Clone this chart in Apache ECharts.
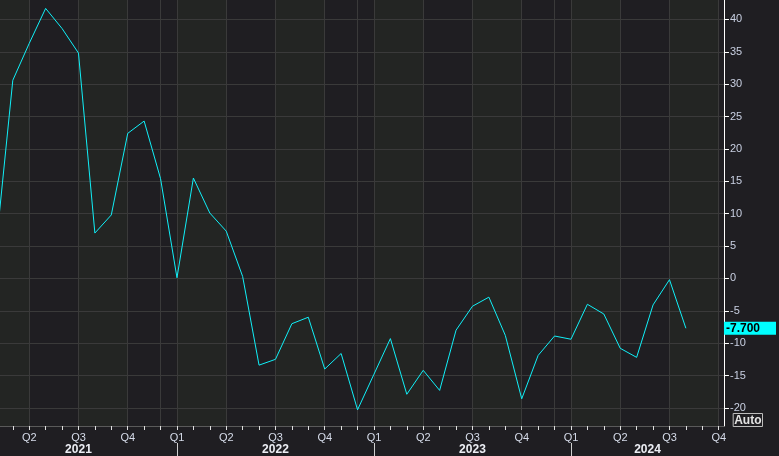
<!DOCTYPE html>
<html>
<head>
<meta charset="utf-8">
<script src="https://cdn.jsdelivr.net/npm/echarts@6/dist/echarts.min.js"></script>
<style>
html,body{margin:0;padding:0;background:#1f1e22;}
#c{width:779px;height:456px;}
</style>
</head>
<body>
<div id="c"></div>
<script>
// ---- data (monthly, first of month) ----
var months = [
  '2021-02','2021-03','2021-04','2021-05','2021-06','2021-07','2021-08','2021-09','2021-10','2021-11','2021-12',
  '2022-01','2022-02','2022-03','2022-04','2022-05','2022-06','2022-07','2022-08','2022-09','2022-10','2022-11','2022-12',
  '2023-01','2023-02','2023-03','2023-04','2023-05','2023-06','2023-07','2023-08','2023-09','2023-10','2023-11','2023-12',
  '2024-01','2024-02','2024-03','2024-04','2024-05','2024-06','2024-07','2024-08'
];
var values = [
  5.5, 30.6, 36.3, 41.7, 38.6, 34.8, 7.0, 9.8, 22.4, 24.3, 15.4,
  0.1, 15.5, 10.1, 7.3, 0.3, -13.4, -12.5, -7.0, -6.0, -14.0, -11.6, -20.3,
  -14.8, -9.3, -17.9, -14.2, -17.3, -8.0, -4.3, -2.9, -8.8, -18.6, -11.9, -8.9,
  -9.4, -4.0, -5.5, -10.8, -12.2, -4.1, -0.2, -7.7
];
var yTicks = [-20, -15, -10, -5, 0, 5, 10, 15, 20, 25, 30, 35, 40];
var years = [2021, 2022, 2023, 2024];
var baseYear = 2021;

// ---- derived ----
function monthIndex(s){ var p = s.split('-'); return (parseInt(p[0],10)-baseYear)*12 + parseInt(p[1],10)-1; }
var xMin = 1.22, xMax = 45.32;
var yMin = -22.8, yMax = 43.0;
var seriesData = months.map(function(m,i){ return [monthIndex(m), values[i]]; });
var monthTicks = [], quarterTicks = [], decTicks = [], yearStarts = [], yearCenters = [];
for (var m = Math.ceil(xMin); m <= Math.floor(xMax); m++) {
  monthTicks.push(m);
  if (m % 3 === 0) quarterTicks.push(m);
  if (m % 12 === 11) decTicks.push(m);
}
years.forEach(function(y){
  var s = (y-baseYear)*12, e = s+12;
  if (s > xMin) yearStarts.push(s);
  yearCenters.push((s + Math.min(e, xMax))/2);
});
var bandTicks = [xMin].concat(quarterTicks).concat([xMax]);
var lastValue = values[values.length-1];

var FONT = 'Liberation Sans';
var chart = echarts.init(document.getElementById('c'));
chart.setOption({
  backgroundColor: '#1f1e22',
  animation: false,
  grid: { left: 0, right: 52, top: 0, bottom: 30, containLabel: false },
  xAxis: [
    { // main axis: monthly ticks + quarter labels
      type: 'value', min: xMin, max: xMax, position: 'bottom',
      axisLine: { show: true, onZero: false, lineStyle: { color: '#5a5a5a', width: 1 } },
      axisTick: { show: true, customValues: monthTicks, length: 4, lineStyle: { color: '#e0e0e0' } },
      axisLabel: { show: true, customValues: quarterTicks, margin: 6, color: '#d6dcea',
        fontFamily: FONT, fontSize: 11,
        formatter: function(v){ return 'Q' + (Math.floor((Math.round(v) % 12)/3) + 1); } },
      splitLine: { show: false }
    },
    { // quarter bands
      type: 'value', min: xMin, max: xMax, position: 'bottom', z: -1,
      axisLine: { show: false, onZero: false }, axisLabel: { show: false },
      axisTick: { show: false, customValues: bandTicks },
      splitLine: { show: false },
      splitArea: { show: true, areaStyle: { color: ['#232523', '#1f1e22'] } }
    },
    { // grid lines at quarter starts and December
      type: 'value', min: xMin, max: xMax, position: 'bottom',
      axisLine: { show: false, onZero: false }, axisLabel: { show: false },
      axisTick: { show: false, customValues: quarterTicks.concat(decTicks) },
      splitLine: { show: true, lineStyle: { color: '#3a3a3a', width: 1 } }
    },
    { // year labels and separators
      type: 'value', min: xMin, max: xMax, position: 'bottom', offset: 17,
      axisLine: { show: false, onZero: false },
      axisTick: { show: true, customValues: yearStarts, length: 14, lineStyle: { color: '#cfcfcf' } },
      axisLabel: { show: true, customValues: yearCenters, margin: 1, color: '#eceef4',
        fontFamily: FONT, fontSize: 12, fontWeight: 'bold',
        formatter: function(v){ return String(baseYear + Math.floor(v/12)); } },
      splitLine: { show: false }
    }
  ],
  yAxis: [
    {
      type: 'value', min: yMin, max: yMax, position: 'right',
      axisLine: { show: true, onZero: false, lineStyle: { color: '#ffffff', width: 1 } },
      axisTick: { show: true, customValues: yTicks, length: 5, lineStyle: { color: '#ffffff' } },
      axisLabel: { show: true, customValues: yTicks, margin: 6, color: '#c9d0e2',
        fontFamily: FONT, fontSize: 11 },
      splitLine: { show: true, lineStyle: { color: '#3a3a3a', width: 1 } }
    },
    {
      type: 'value', min: yMin, max: yMax, position: 'right',
      axisLine: { show: false, onZero: false }, axisTick: { show: false }, splitLine: { show: false },
      axisLabel: { show: true, customValues: [lastValue], margin: 0,
        formatter: function(v){ return v.toFixed(3); },
        color: '#000000', backgroundColor: '#00ffff', fontFamily: FONT, fontSize: 12,
        fontWeight: 'bold', padding: [1, 16, 0, 2], lineHeight: 12 }
    }
  ],
  graphic: [
    { type: 'text', right: 16, top: 413, z: 100,
      style: { text: 'Auto', fill: '#e4e4e4', font: 'bold 12px ' + FONT,
        borderColor: '#bdbdbd', borderWidth: 1, padding: [1, 1, 0, 1] } }
  ],
  series: [
    {
      type: 'line', xAxisIndex: 0, yAxisIndex: 0, data: seriesData,
      showSymbol: false, symbol: 'none', clip: true,
      lineStyle: { color: '#11f0f8', width: 1 }
    }
  ]
});
</script>
</body>
</html>
